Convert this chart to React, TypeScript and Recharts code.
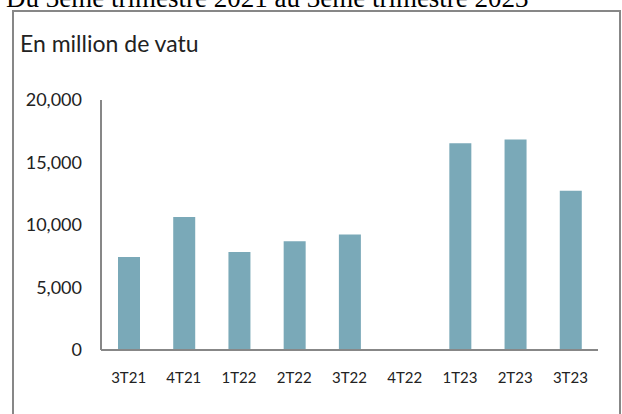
import React from "react";
import { BarChart, Bar, XAxis, YAxis } from "recharts";

const categories = ["3T21", "4T21", "1T22", "2T22", "3T22", "4T22", "1T23", "2T23", "3T23"];
const values = [7450, 10650, 7850, 8700, 9250, 0, 16550, 16850, 12750];
const yTicks = [0, 5000, 10000, 15000, 20000];
const headerText = "Du 3ème trimestre 2021 au 3ème trimestre 2023";
const unitText = "En million de vatu";

const data = categories.map((c, i) => ({ name: c, value: values[i] }));

const FONT = "Lato, 'Open Sans', sans-serif";
const AXIS_COLOR = "#878787";
const BAR_COLOR = "#7aa9b8";

export default function App() {
  return (
    <div style={{ position: "absolute", left: 0, top: 0, width: 622, height: 414, overflow: "hidden", background: "#fff" }}>
      <div style={{ position: "absolute", left: 0, top: 0 }}>
        <BarChart
          width={622}
          height={414}
          data={data}
          margin={{ top: 100, right: 24, bottom: 0, left: 0 }}
        >
          <XAxis
            dataKey="name"
            axisLine={{ stroke: AXIS_COLOR, strokeWidth: 2 }}
            tickLine={false}
            tickSize={0}
            tickMargin={22}
            interval={0}
            tick={{ fill: "#222", fontSize: 15, fontFamily: FONT }}
            height={64}
          />
          <YAxis
            domain={[0, 20000]}
            ticks={yTicks}
            interval={0}
            width={101}
            axisLine={{ stroke: AXIS_COLOR, strokeWidth: 2 }}
            tickLine={false}
            tickSize={0}
            tickMargin={19}
            tickFormatter={(v: number) => v.toLocaleString("en-US")}
            tick={{ fill: "#222", fontSize: 18, fontFamily: FONT }}
          />
          <Bar dataKey="value" fill={BAR_COLOR} barSize={22} isAnimationActive={false} />
        </BarChart>
      </div>
      <svg
        width={622}
        height={414}
        style={{ position: "absolute", left: 0, top: 0, pointerEvents: "none" }}
      >
        <text x={6} y={7} fontFamily="'Liberation Serif', 'Times New Roman', serif" fontSize={27} fill="#000">
          {headerText}
        </text>
        <rect x={13} y={11} width={607} height={500} fill="none" stroke={AXIS_COLOR} strokeWidth={2} />
        <text x={20} y={52} fontFamily={FONT} fontSize={23} fill="#222">
          {unitText}
        </text>
      </svg>
    </div>
  );
}
